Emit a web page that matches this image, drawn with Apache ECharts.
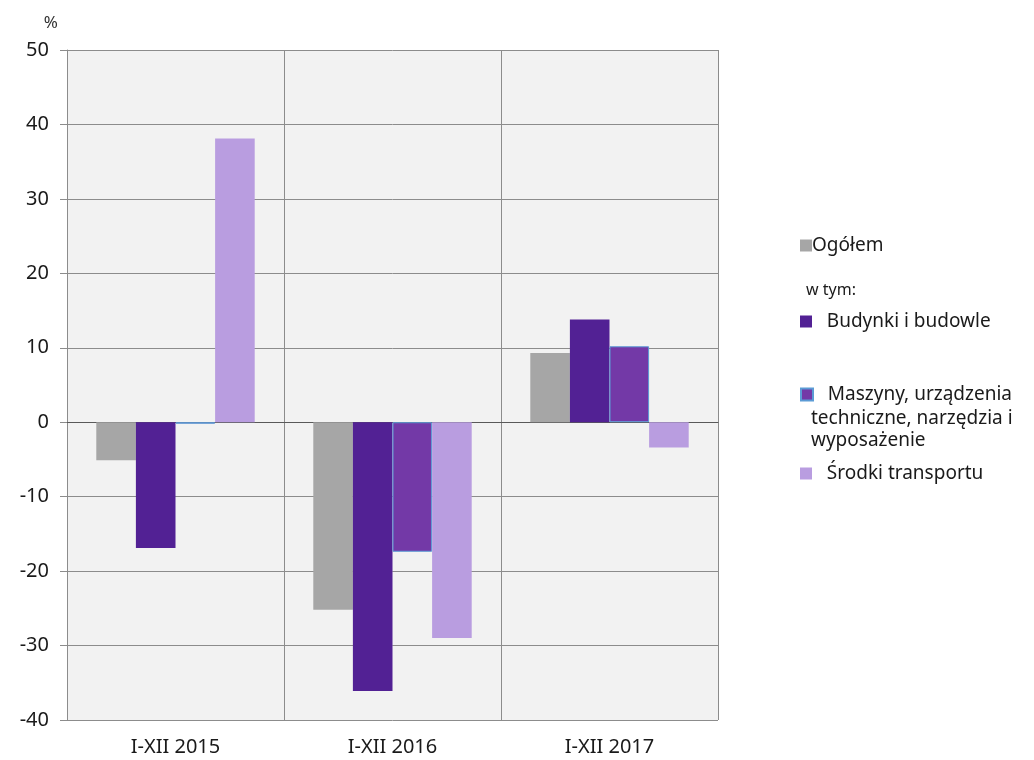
<!DOCTYPE html>
<html>
<head>
<meta charset="utf-8">
<script src="https://cdn.jsdelivr.net/npm/echarts@6/dist/echarts.min.js"></script>
<style>
	html, body { margin: 0; padding: 0; background: #ffffff; }
	#chart { width: 1034px; height: 760px; }
</style>
</head>
<body>
<div id="chart"></div>
<script>
// okresy
var categories = ['I-XII 2015', 'I-XII 2016', 'I-XII 2017'];
// serie (%)
var ogolem = [-5.1, -25.2, 9.3];
var budynki = [-16.9, -36.1, 13.8];
var maszyny = [-0.2, -17.4, 10.2];
var transport = [38.1, -29.0, -3.4];
var yTicks = [-40, -30, -20, -10, 0, 10, 20, 30, 40, 50];

var FONT = '"Noto Sans", "DejaVu Sans", sans-serif';
var names = ['Ogółem', 'Budynki i budowle', 'Maszyny, urządzenia techniczne, narzędzia i wyposażenie', 'Środki transportu'];

var myChart = echarts.init(document.getElementById('chart'));

function legendItem(name, top, label) {
	return {
		data: [name],
		orient: 'vertical',
		left: 795,
		top: top,
		icon: 'rect',
		itemWidth: 12,
		itemHeight: 12,
		itemGap: 0,
		selectedMode: false,
		formatter: function () { return label; },
		textStyle: { color: '#1a1a1a', fontSize: 19, fontFamily: FONT, padding: [0, 0, 0, -5] }
	};
}

var option = {
	backgroundColor: '#ffffff',
	animation: false,
	grid: {
		left: 67,
		right: 316,
		top: 50,
		bottom: 40,
		backgroundColor: '#f2f2f2',
		show: true,
		borderWidth: 0
	},
	legend: [
		legendItem(names[0], 231, 'Ogółem'),
		legendItem(names[1], 307, '   Budynki i budowle'),
		legendItem(names[2], 380, '   Maszyny, urządzenia'),
		legendItem(names[3], 459, '   Środki transportu')
	],
	graphic: [{
		type: 'text',
		left: 806,
		top: 282,
		style: { text: 'w tym:', fontSize: 16, fontFamily: FONT, fill: '#1a1a1a' }
	}, {
		type: 'text',
		left: 811,
		top: 408,
		style: {
			text: 'techniczne, narzędzia i\nwyposażenie',
			fontSize: 19,
			lineHeight: 22,
			fontFamily: FONT,
			fill: '#1a1a1a'
		}
	}],
	xAxis: {
		type: 'category',
		data: categories,
		axisLine: { lineStyle: { color: '#595959', width: 1 } },
		axisTick: { show: false },
		axisLabel: { color: '#1a1a1a', fontSize: 20, fontFamily: FONT, margin: 17 },
		splitLine: { show: true, lineStyle: { color: '#8c8c8c', width: 1 } }
	},
	yAxis: {
		type: 'value',
		min: yTicks[0],
		max: yTicks[yTicks.length - 1],
		interval: 10,
		name: '%',
		nameLocation: 'end',
		nameGap: 18,
		nameTextStyle: { color: '#333333', fontSize: 17, fontFamily: FONT, align: 'right', padding: [0, 9, 0, 0] },
		axisLine: { show: true, lineStyle: { color: '#8c8c8c', width: 1 } },
		axisTick: { show: true, length: 7, lineStyle: { color: '#8c8c8c' } },
		axisLabel: { color: '#1a1a1a', fontSize: 20, fontFamily: FONT, margin: 18 },
		splitLine: { show: true, lineStyle: { color: '#8c8c8c', width: 1 } }
	},
	series: [{
		name: names[0],
		type: 'bar',
		data: ogolem,
		barGap: 0,
		barCategoryGap: '27%',
		itemStyle: { color: '#a6a6a6' }
	}, {
		name: names[1],
		type: 'bar',
		data: budynki,
		barGap: 0,
		barCategoryGap: '27%',
		itemStyle: { color: '#522194' }
	}, {
		name: names[2],
		type: 'bar',
		data: maszyny,
		barGap: 0,
		barCategoryGap: '27%',
		itemStyle: { color: '#7339a7', borderColor: '#5b9bd5', borderWidth: 1 }
	}, {
		name: names[3],
		type: 'bar',
		data: transport,
		barGap: 0,
		barCategoryGap: '27%',
		itemStyle: { color: '#b99de0' }
	}]
};
myChart.setOption(option);
</script>
</body>
</html>
